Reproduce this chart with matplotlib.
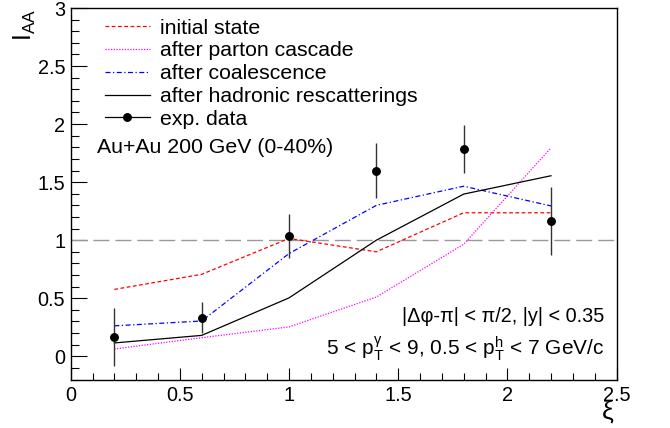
import matplotlib
matplotlib.use("Agg")
import matplotlib.pyplot as plt
from matplotlib.lines import Line2D
from matplotlib.ticker import MultipleLocator

plt.rcParams['font.family'] = ['Liberation Sans', 'DejaVu Sans']
plt.rcParams['mathtext.fontset'] = 'custom'
plt.rcParams['mathtext.rm'] = 'Liberation Sans'
plt.rcParams['mathtext.it'] = 'Liberation Sans'
plt.rcParams['mathtext.bf'] = 'Liberation Sans:bold'

xi = [0.2, 0.6, 1.0, 1.4, 1.8, 2.2]
initial_state = [0.576, 0.706, 1.015, 0.90, 1.236, 1.236]
parton_cascade = [0.063, 0.16, 0.253, 0.51, 0.965, 1.795]
coalescence = [0.262, 0.304, 0.885, 1.30, 1.465, 1.295]
hadronic = [0.115, 0.18, 0.503, 1.0, 1.397, 1.555]
exp_y = [0.17, 0.333, 1.035, 1.60, 1.785, 1.165]
exp_err = [0.25, 0.135, 0.19, 0.24, 0.21, 0.29]

fig = plt.figure(figsize=(6.7, 4.28), dpi=100)
ax = fig.add_axes([70.7/670, 1-379.5/428, 545.8/670, 371.5/428])

ax.axhline(1.0, color='#999999', lw=1.0, dashes=(11.5, 4.3))
l1, = ax.plot(xi, initial_state, color='red', lw=0.9, dashes=(3, 2))
l2, = ax.plot(xi, parton_cascade, color='magenta', lw=0.9, dashes=(1, 1.2))
l3, = ax.plot(xi, coalescence, color='blue', lw=0.9, dashes=(4, 2, 1, 2))
l4, = ax.plot(xi, hadronic, color='black', lw=0.9)
ax.errorbar(xi, exp_y, yerr=exp_err, fmt='o', color='black', ms=5.4,
            ecolor='#333333', elinewidth=1.0, capsize=0)

ax.set_xlim(0, 2.5)
ax.set_ylim(-0.2, 3)
ax.xaxis.set_minor_locator(MultipleLocator(0.1))
ax.yaxis.set_minor_locator(MultipleLocator(0.1))
ax.set_xticks([0, 0.5, 1, 1.5, 2, 2.5])
ax.set_xticklabels(['0', '0.5', '1', '1.5', '2', '2.5'])
ax.set_yticks([0, 0.5, 1, 1.5, 2, 2.5, 3])
ax.set_yticklabels(['0', '0.5', '1', '1.5', '2', '2.5', '3'])
ax.tick_params(which='both', direction='in', top=False, right=False,
               labelsize=14.3, width=0.8)
ax.tick_params(axis='x', which='major', length=8.6, pad=5)
ax.tick_params(axis='x', which='minor', length=4.8)
ax.tick_params(axis='y', which='major', length=11.5, pad=4)
ax.tick_params(axis='y', which='minor', length=5.8)
for s in ax.spines.values():
    s.set_linewidth(1.0)

handles = [l1, l2, l3, l4,
           Line2D([], [], color='black', lw=0.9, marker='o', ms=5.4)]
labels = ['initial state', 'after parton cascade', 'after coalescence',
          'after hadronic rescatterings', 'exp. data']
fig.legend(handles, labels, loc='upper left',
           bbox_to_anchor=(105/670, 1-18.5/428), bbox_transform=fig.transFigure,
           frameon=False, fontsize=15.3, handlelength=2.1, handletextpad=0.47,
           labelspacing=0.18, borderaxespad=0, borderpad=0)

fig.text(97/670, 1-148/428, 'Au+Au 200 GeV (0-40%)',
         fontsize=15.3, ha='left', va='center')
fig.text(604/670, 1-317/428, '|Δφ-π| < π/2, |y| < 0.35',
         fontsize=14.3, ha='right', va='center')
fig.text(604/670, 1-349/428,
         r'5 < $\mathrm{p}_{\mathrm{T}}^{\gamma}$ < 9, 0.5 < $\mathrm{p}_{\mathrm{T}}^{\mathrm{h}}$ < 7 GeV/c',
         fontsize=15, ha='right', va='center')

fig.text(24.5/670, 1-9/428, r'$\mathrm{I}_{\mathrm{AA}}$', rotation=90, fontsize=17.8,
         ha='center', va='top')
fig.text(608/670, 1-412/428, 'ξ', fontsize=19, ha='center', va='center')

fig.savefig('out.png', dpi=100)
